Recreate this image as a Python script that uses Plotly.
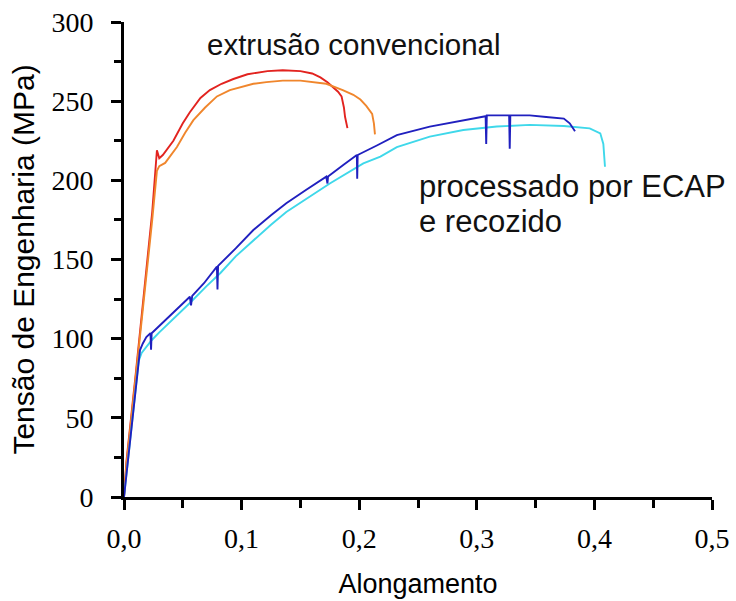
import plotly.graph_objects as go

# ---- data ----
ext1_x = [0, 0.002, 0.010, 0.018, 0.024, 0.028, 0.030, 0.033, 0.042, 0.050, 0.056, 0.065,
          0.073, 0.083, 0.093, 0.105, 0.122, 0.135, 0.150, 0.160, 0.167, 0.173, 0.178,
          0.182, 0.185, 0.187, 0.188, 0.190]
ext1_y = [0, 22, 78, 135, 180, 219, 214, 216, 225, 236, 243, 252,
          257, 261, 264, 267, 269, 269.5, 269, 267.5, 265, 262, 259,
          256, 253, 246, 240, 233]

ext2_x = [0, 0.002, 0.010, 0.018, 0.024, 0.028, 0.030, 0.035, 0.045, 0.052, 0.059, 0.069,
          0.079, 0.090, 0.099, 0.110, 0.121, 0.135, 0.150, 0.162, 0.172, 0.186, 0.195,
          0.201, 0.206, 0.211, 0.2125, 0.2134]
ext2_y = [0, 20, 76, 131, 175, 206, 209, 211, 221, 230, 238, 246,
          253, 257, 259, 261, 262, 263, 263, 262, 261, 257, 254,
          251, 247, 242, 236, 229]

ecap1_x = [0, 0.002, 0.0094, 0.0125, 0.0136, 0.016, 0.019, 0.0225, 0.0230, 0.0235, 0.030,
           0.040, 0.056, 0.057, 0.058, 0.068, 0.079, 0.0795, 0.080, 0.095, 0.110, 0.125,
           0.138, 0.155, 0.172, 0.173, 0.1735, 0.187, 0.198, 0.1983, 0.1987, 0.215, 0.232,
           0.260, 0.2885, 0.3075, 0.308, 0.3085, 0.3275, 0.328, 0.3285, 0.345, 0.359,
           0.374, 0.379, 0.3835]
ecap1_y = [0, 14, 67.6, 88, 92.8, 97, 101, 103.5, 93, 103.4, 108,
           115, 126.5, 121, 127, 135, 145.5, 131, 146, 157, 168.6, 178,
           185.5, 194, 202.3, 198, 202.5, 210, 216, 201, 216, 222, 228.6,
           233.9, 238, 240.5, 223, 241, 241, 220, 241, 241, 240,
           239, 236, 231]

ecap2_x = [0, 0.002, 0.0094, 0.0125, 0.015, 0.019, 0.0235, 0.030, 0.040, 0.056, 0.070,
           0.082, 0.095, 0.110, 0.125, 0.138, 0.155, 0.175, 0.2035, 0.218, 0.232, 0.260,
           0.2885, 0.317, 0.345, 0.374, 0.396, 0.405, 0.4076, 0.409]
ecap2_y = [0, 14, 67, 86, 91, 95, 99, 104, 111, 122.5, 133,
           141.5, 152, 162, 172, 180, 188.5, 198, 210.7, 215, 221, 227.6,
           231.8, 234, 235, 234.3, 232.8, 229.7, 223, 208.6]

x_ticks = [0, 0.1, 0.2, 0.3, 0.4, 0.5]
y_ticks = [0, 50, 100, 150, 200, 250, 300]

series = [
    (ext1_x, ext1_y, "#e2231f"),
    (ext2_x, ext2_y, "#f0862c"),
    (ecap2_x, ecap2_y, "#3fd8ea"),
    (ecap1_x, ecap1_y, "#2020bf"),
]

fig = go.Figure()
for xs, ys, col in series:
    fig.add_trace(go.Scatter(x=xs, y=ys, mode="lines",
                             line=dict(color=col, width=1.9),
                             showlegend=False, hoverinfo="skip"))

sans = "Liberation Sans, Arial, sans-serif"
serif = "Liberation Serif, Times New Roman, serif"

fig.add_annotation(x=0.1956, y=286, text="extrusão convencional", showarrow=False,
                   xanchor="center", yanchor="middle",
                   font=dict(family=sans, size=29.5, color="#111"))
fig.add_annotation(x=0.249, y=195.8, text="processado por ECAP", showarrow=False,
                   xanchor="left", yanchor="middle",
                   font=dict(family=sans, size=31, color="#111"))
fig.add_annotation(x=0.249, y=173.7, text="e recozido", showarrow=False,
                   xanchor="left", yanchor="middle",
                   font=dict(family=sans, size=31, color="#111"))

axis_common = dict(showline=True, linecolor="black", linewidth=3, ticks="outside",
                   ticklen=10, tickwidth=3, tickcolor="black", showgrid=False,
                   zeroline=False, automargin=False, mirror=False,
                   tickfont=dict(family=serif, size=28, color="black"))

fig.update_xaxes(range=[0, 0.5], tickvals=x_ticks, tickformat=".1f",
                 minor=dict(ticks="outside", ticklen=8, tickwidth=3, tickcolor="black", dtick=0.05),
                 title=dict(text="Alongamento", font=dict(family=sans, size=27, color="black"),
                            standoff=22),
                 ticklabelstandoff=4,
                 **axis_common)
fig.update_yaxes(range=[0, 300], tickvals=y_ticks, tickformat="d",
                 minor=dict(ticks="outside", ticklen=7, tickwidth=3, tickcolor="black", dtick=25),
                 title=dict(text="Tensão de Engenharia (MPa)",
                            font=dict(family=sans, size=30, color="black"), standoff=8),
                 ticklabelstandoff=12,
                 **axis_common)

fig.update_layout(width=736, height=601, separators=",.",
                  margin=dict(l=124, r=24, t=22, b=104, pad=0),
                  paper_bgcolor="white", plot_bgcolor="white")

fig.write_html("out.html")
